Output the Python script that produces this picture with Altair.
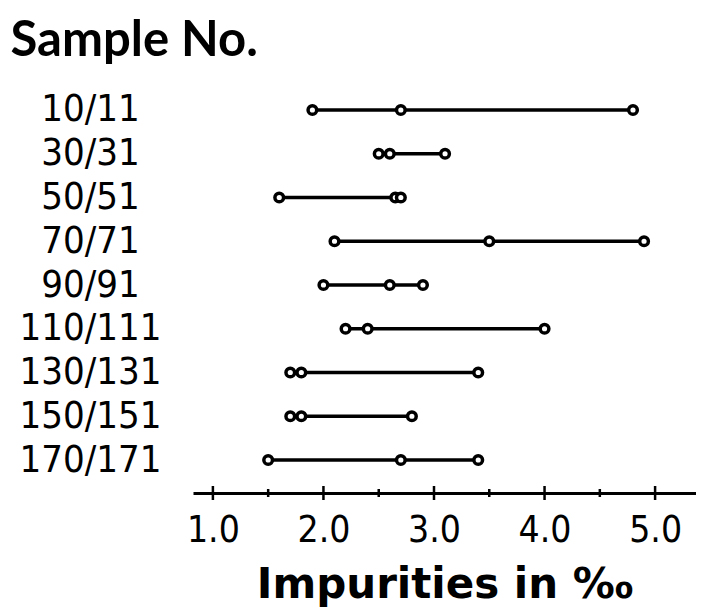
import altair as alt
import pandas as pd

samples = ["10/11", "30/31", "50/51", "70/71", "90/91", "110/111", "130/131", "150/151", "170/171"]
low = [1.9, 2.5, 1.6, 2.1, 2.0, 2.2, 1.7, 1.7, 1.5]
mid = [2.7, 2.6, 2.65, 3.5, 2.6, 2.4, 1.8, 1.8, 2.7]
high = [4.8, 3.1, 2.7, 4.9, 2.9, 4.0, 3.4, 2.8, 3.4]

major_ticks = [1.0, 2.0, 3.0, 4.0, 5.0]
minor_ticks = [1.5, 2.5, 3.5, 4.5]

W, H = 503, 416

rows = []
for s, a, b, c in zip(samples, low, mid, high):
    for v in (a, b, c):
        rows.append({"sample": s, "value": v})
df = pd.DataFrame(rows)

xscale = alt.Scale(domain=[0.82, 5.37], nice=False, zero=False)
yscale = alt.Scale(type="point", padding=0.754)

xaxis = alt.Axis(
    values=major_ticks, format=".1f", grid=False, ticks=False, tickSize=0,
    domainColor="black", domainWidth=3,
    labelFont="DejaVu Sans Condensed", labelFontSize=37, labelColor="black",
    labelPadding=19, labelFlush=False,
    title="Impurities in ‰", titleFont="DejaVu Sans", titleFontWeight="bold",
    titleFontSize=42, titleColor="black", titleBaseline="alphabetic",
    titleAlign="center", titleX=W / 2, titleY=104,
)
yaxis = alt.Axis(
    grid=False, ticks=False, tickSize=0, domain=False,
    labelFont="DejaVu Sans Condensed", labelFontSize=38, labelColor="black",
    labelAlign="center", labelBaseline="middle", labelPadding=103,
    title="Sample No.", titleFont="Lato", titleFontWeight="bold", titleFontSize=49,
    titleColor="black", titleAngle=0, titleAlign="left", titleBaseline="alphabetic",
    titleX=-183, titleY=-22,
)

base = alt.Chart(df).encode(
    x=alt.X("value:Q", scale=xscale, axis=xaxis),
    y=alt.Y("sample:N", sort=samples, scale=yscale, axis=yaxis),
)
lines = base.mark_line(color="black", strokeWidth=3.5).encode(detail="sample:N")
points = base.mark_point(shape="circle", filled=True, fill="white", stroke="black",
                         strokeWidth=3.5, size=75, opacity=1)

maj = alt.Chart(pd.DataFrame({"t": major_ticks})).mark_rule(color="black", strokeWidth=2.5).encode(
    x=alt.X("t:Q", scale=xscale), y=alt.value(H - 7), y2=alt.value(H + 7))
mnr = alt.Chart(pd.DataFrame({"t": minor_ticks})).mark_rule(color="black", strokeWidth=2.5).encode(
    x=alt.X("t:Q", scale=xscale), y=alt.value(H - 4), y2=alt.value(H + 4))

chart = alt.layer(lines, points, maj, mnr).properties(
    width=W, height=H,
    background="white",
    autosize=alt.AutoSizeParams(type="none"),
    padding={"left": 185, "top": 69, "right": 0, "bottom": 122},
).configure_view(stroke=None)

chart.save("out.html", embed_options={"renderer": "svg", "actions": False})
